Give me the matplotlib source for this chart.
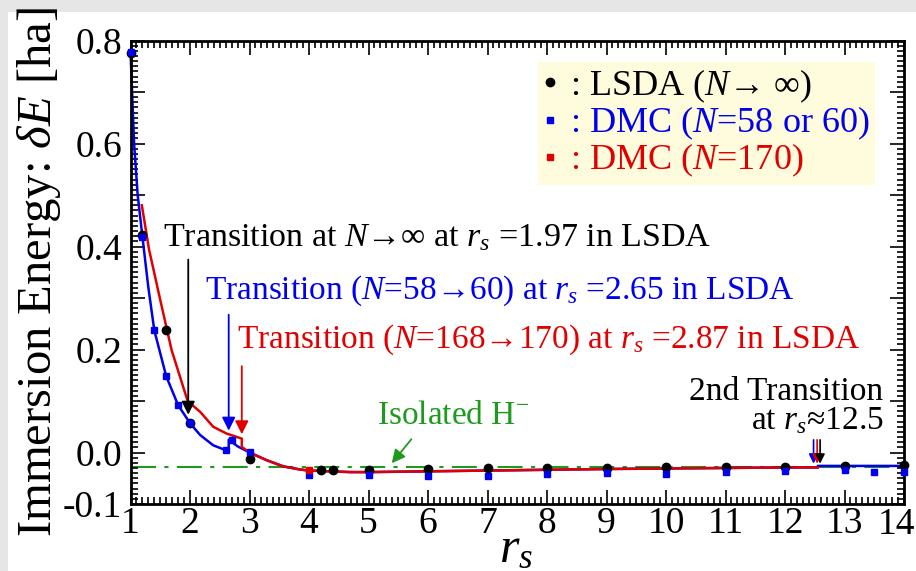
import numpy as np
import matplotlib.pyplot as plt
from matplotlib.ticker import FixedLocator, FixedFormatter, MultipleLocator
from matplotlib.lines import Line2D
from matplotlib.patches import Rectangle

plt.rcParams['font.family'] = ['Liberation Serif', 'DejaVu Serif']
plt.rcParams['mathtext.fontset'] = 'custom'
plt.rcParams['mathtext.rm'] = 'Liberation Serif'
plt.rcParams['mathtext.it'] = 'Liberation Serif:italic'

# LSDA (N -> inf) points
lsda_rs = [1.0, 1.2, 1.6, 2.0, 3.0, 4.2, 4.4, 5, 6, 7, 8, 9, 10, 11, 12, 13, 14]
lsda_de = [0.775, 0.423, 0.237, 0.057, -0.012, -0.034, -0.034, -0.034, -0.032,
           -0.031, -0.030, -0.030, -0.029, -0.029, -0.028, -0.026, -0.025]

# DMC N=58 or 60 points
dmc60_rs = [1.0, 1.2, 1.4, 1.6, 1.8, 2.0, 2.6, 2.7, 3.0, 4, 5, 6, 7, 8, 9, 10,
            11, 12, 13, 13.5, 14]
dmc60_de = [0.778, 0.419, 0.237, 0.148, 0.092, 0.057, 0.005, 0.024, 0.001,
            -0.043, -0.043, -0.045, -0.046, -0.042, -0.040, -0.041, -0.038,
            -0.036, -0.034, -0.038, -0.038]

# DMC N=170 points
dmc170_rs = [4.0]
dmc170_de = [-0.034]

# LSDA curve, N=58/60
blue_rs = [1.0, 1.06, 1.12, 1.2, 1.3, 1.4, 1.6, 1.8, 2.0, 2.17, 2.39, 2.6, 2.65,
           2.65, 2.8, 3.0, 3.29, 3.57, 3.85, 4.0, 4.7, 5.0, 6, 7, 8, 9, 10, 11,
           12, 12.55, 12.55, 14]
blue_de = [0.778, 0.60, 0.50, 0.419, 0.32, 0.237, 0.148, 0.092, 0.057, 0.034,
           0.014, 0.0045, 0.003, 0.025, 0.012, 0.0, -0.015, -0.027, -0.033,
           -0.035, -0.038, -0.038, -0.0365, -0.035, -0.0335, -0.032, -0.031,
           -0.030, -0.029, -0.029, -0.026, -0.026]

# LSDA curve, N=168/170
red_rs = [1.19, 1.31, 1.5, 1.69, 1.96, 2.17, 2.39, 2.61, 2.87, 2.87, 3.0, 3.29,
          3.57, 3.85, 4.0, 4.7, 5.0, 6, 7, 8, 9, 10, 11, 12, 12.55]
red_de = [0.48, 0.395, 0.296, 0.199, 0.10, 0.079, 0.050, 0.037, 0.027, 0.011,
          0.0, -0.015, -0.027, -0.033, -0.035, -0.038, -0.038, -0.0365, -0.035,
          -0.0335, -0.032, -0.031, -0.030, -0.029, -0.029]

isolated_h = -0.029

xticks = list(range(1, 15))
xlabels = [str(v) for v in range(1, 14)] + ['']
yticks = [-0.1, 0.0, 0.1, 0.2, 0.3, 0.4, 0.5, 0.6, 0.7, 0.8]
ylabels = ['-0.1', '0.0', '', '0.2', '', '0.4', '', '0.6', '', '0.8']

blue = '#0000ee'
red = '#e00000'
green = '#1f9a1f'

fig = plt.figure(figsize=(9.16, 5.71), dpi=100)
fig.patch.set_facecolor('#e6e6e6')
fig.add_artist(Rectangle((8 / 916, 0), 1, 1 - 12 / 571, transform=fig.transFigure,
                         facecolor='white', edgecolor='none', zorder=-5))
ax = fig.add_axes([0.1425, 0.1173, 0.8444, 0.8117])

ax.axhline(isolated_h, color=green, lw=1.5, dashes=(12, 4, 2, 4), zorder=1)
ax.plot(blue_rs, blue_de, color=blue, lw=1.8, zorder=2, clip_on=False)
ax.plot(red_rs, red_de, color=red, lw=1.8, zorder=3)
ax.plot(dmc60_rs, dmc60_de, 's', color=blue, ms=4.5, zorder=5, clip_on=False)
ax.plot(lsda_rs, lsda_de, 'o', color='black', ms=6, zorder=4, clip_on=False)
ax.plot(dmc170_rs, dmc170_de, 's', color=red, ms=4.5, zorder=6)

ax.set_xlim(1, 14)
ax.set_ylim(-0.1, 0.8)
ax.xaxis.set_major_locator(FixedLocator(xticks))
ax.xaxis.set_major_formatter(FixedFormatter(xlabels))
ax.xaxis.set_minor_locator(MultipleLocator(0.1))
ax.yaxis.set_major_locator(FixedLocator(yticks))
ax.yaxis.set_major_formatter(FixedFormatter(ylabels))
ax.yaxis.set_minor_locator(MultipleLocator(0.01))
ax.tick_params(which='both', direction='in', top=True, right=True, width=1.2)
ax.tick_params(which='major', length=10, labelsize=27)
ax.tick_params(which='minor', length=5)
ax.tick_params(axis='x', pad=2)
ax.tick_params(axis='y', pad=6)
for s in ax.spines.values():
    s.set_linewidth(2)

# last x tick label, nudged left so it stays inside the figure
ax.text(13.88, -0.008, '14', fontsize=27, ha='center', va='top',
        transform=ax.get_xaxis_transform())

ax.set_ylabel(r'Immersion Energy: $\delta E$ [ha]', fontsize=35, labelpad=0)
ax.text(0.498, -0.098, r'$r_s$', fontsize=36, transform=ax.transAxes,
        ha='center', va='center')

# transition arrows and labels
arw = dict(arrowstyle='-|>', lw=1.3, mutation_scale=20)
ax.annotate('', xy=(1.97, 0.068), xytext=(1.97, 0.38),
            arrowprops=dict(color='black', **arw))
ax.annotate('', xy=(2.65, 0.037), xytext=(2.65, 0.273),
            arrowprops=dict(color=blue, **arw))
ax.annotate('', xy=(2.87, 0.030), xytext=(2.87, 0.173),
            arrowprops=dict(color=red, **arw))
ax.annotate('', xy=(5.36, -0.025), xytext=(5.75, 0.030),
            arrowprops=dict(color=green, **arw))
for x, c in [(12.48, blue), (12.54, red), (12.59, 'black')]:
    ax.annotate('', xy=(x, -0.027), xytext=(x, 0.030),
                arrowprops=dict(color=c, arrowstyle='-|>', lw=1.2,
                                mutation_scale=14))

ax.text(1.55, 0.416, r'Transition at $N$→∞ at $r_s$ =1.97 in LSDA',
        fontsize=24.5, color='black', ha='left', va='center')
ax.text(2.25, 0.315, r'Transition ($N$=58→60) at $r_s$ =2.65 in LSDA',
        fontsize=24, color=blue, ha='left', va='center')
ax.text(2.79, 0.218, r'Transition ($N$=168→170) at $r_s$ =2.87 in LSDA',
        fontsize=24, color=red, ha='left', va='center')
ax.text(6.42, 0.072, r'Isolated H$^{-}$', fontsize=24, color=green,
        ha='center', va='center')
ax.text(13.65, 0.118, '2nd Transition', fontsize=24, color='black',
        ha='right', va='center')
ax.text(13.65, 0.062, r'at $r_s$≈12.5', fontsize=24, color='black',
        ha='right', va='center')

handles = [Line2D([], [], ls='none', marker='o', color='black', ms=6),
           Line2D([], [], ls='none', marker='s', color=blue, ms=4.5),
           Line2D([], [], ls='none', marker='s', color=red, ms=4.5)]
labels = [r': LSDA ($N$→ ∞)', r': DMC ($N$=58 or 60)', r': DMC ($N$=170)']
leg = ax.legend(handles, labels, loc='upper right', bbox_to_anchor=(0.963, 0.954),
                fontsize=26, labelcolor=['black', blue, red], frameon=True,
                fancybox=False, handlelength=0.4, handletextpad=0.35,
                labelspacing=0.0, borderpad=0.15, borderaxespad=0)
leg.get_frame().set_facecolor('#fffbdd')
leg.get_frame().set_edgecolor('none')
leg.get_frame().set_alpha(1)

fig.savefig('out.png', dpi=100)
